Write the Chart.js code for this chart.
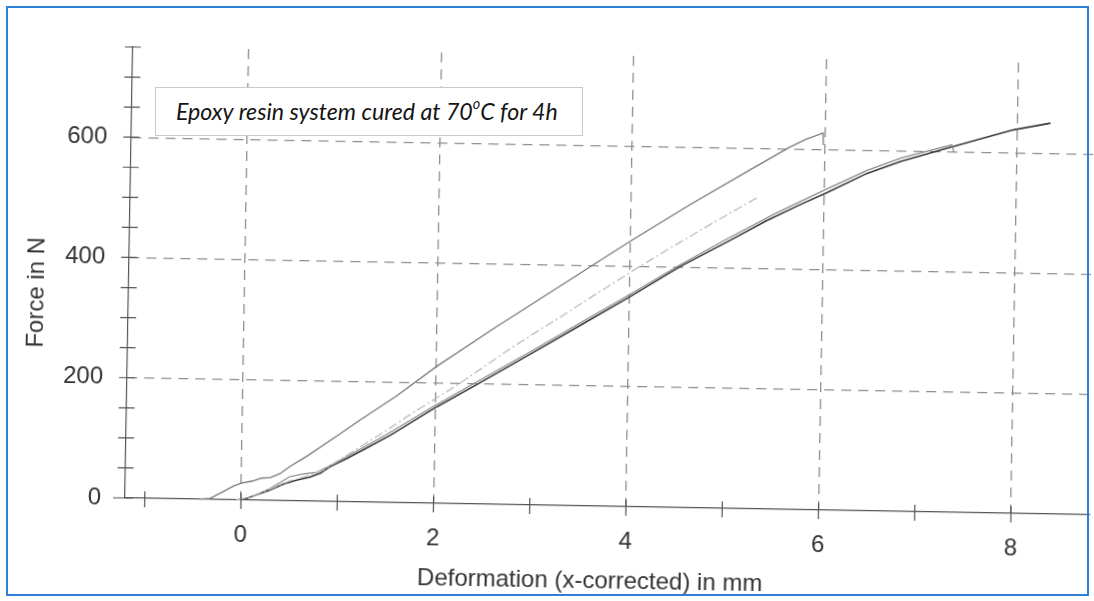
<!DOCTYPE html>
<html>
<head>
<meta charset="utf-8">
<script src="https://cdn.jsdelivr.net/npm/chart.js@4.4.1/dist/chart.umd.min.js"></script>
<style>
html,body{margin:0;padding:0;background:#fff;width:1094px;height:601px;overflow:hidden;}
#c{position:absolute;left:0;top:0;transform:rotate(1deg);transform-origin:241px 500px;}
#frame{position:absolute;left:6px;top:6px;width:1083px;height:590px;box-sizing:border-box;border:2px solid #2f7fd6;pointer-events:none;}
#note{position:absolute;left:155px;top:87px;width:428px;height:49px;box-sizing:border-box;border:1px solid #c9c9c9;background:#fff;
  font-family:Lato,"Open Sans",sans-serif;font-style:italic;font-size:21px;line-height:47px;padding-left:20px;color:#151515;white-space:nowrap;}
#note sup{font-size:0.62em;vertical-align:0;position:relative;top:-0.75em;}
</style>
</head>
<body>
<canvas id="c" width="1094" height="601"></canvas>
<div id="note"><span id="noteText">Epoxy resin system cured at 70<sup>o</sup>C for 4h</span></div>
<div id="frame"></div>
<script>
// ---- data ----
const xTitle = 'Deformation (x-corrected) in mm';
const yTitle = 'Force in N';
const xTickLabels = [0, 2, 4, 6, 8];
const yTickLabels = [0, 200, 400, 600];
const xMinorTicks = [-1, 0, 1, 2, 3, 4, 5, 6, 7, 8];
const yMinorTicks = [0, 50, 100, 150, 200, 250, 300, 350, 400, 450, 500, 550, 600, 650, 700, 750];

// upper curve
const xA = [-0.43,-0.32,-0.19,-0.08,0.0,0.12,0.21,0.30,0.40,0.50,0.68,1.0,1.2,1.6,2.01,2.6,3.21,3.69,4.02,4.6,5.23,5.64,5.80,5.98,5.985];
const yA = [0,2,13,23,28,32,37,38,45,57,75,111,134,178,228,293,358,409,444,503,564,603,616,627,607];
// light dash-dot curve
const xB = [-0.05,0.1,0.3,0.5,0.7,0.85,1.0,1.25,1.5,1.75,2.01,2.25,2.8,3.25,3.7,4.1,4.5,4.9,5.3];
const yB = [0,6,19,33,43,52,68,94,120,148,175,200,263,310,358,400,440,479,517];
// dark main curve
const xC = [-0.05,0.06,0.16,0.30,0.44,0.58,0.71,0.82,0.92,1.09,1.26,1.54,2.02,2.43,3.0,3.5,4.0,4.52,5.0,5.4,5.75,6.03,6.44,6.79,7.2,7.6,7.96,8.34];
const yC = [0,3,9,17.5,28,35,40,47,58,72,87,112,161,199,253,301,349,401,443,479,507,528,561,582,602,621,638,650];
// grey curve beside the dark one
const xD = [-0.03,0.1,0.3,0.5,0.64,0.78,0.92,1.1,1.5,2.0,2.5,3.0,3.5,4.0,4.5,5.0,5.5,6.0,6.44,6.8,7.2,7.32,7.34];
const yD = [0,5,20,40,45,48,60,76,113,163,210,257,305,353,402,448,492,532,566,588,606,611,600];

const pts = (xs, ys) => xs.map((x, i) => ({x: x, y: ys[i]}));

Chart.defaults.font.family = '"Liberation Sans", Arial, sans-serif';
Chart.defaults.color = '#333';

const decor = {
  id: 'decor',
  afterDraw(chart) {
    const {ctx, chartArea: a, scales: {x, y}} = chart;
    ctx.save();
    ctx.strokeStyle = '#555';
    ctx.lineWidth = 1.2;
    ctx.beginPath();
    yMinorTicks.forEach(v => { const p = y.getPixelForValue(v); ctx.moveTo(a.left - 8, p); ctx.lineTo(a.left + 8, p); });
    xMinorTicks.forEach(v => { const p = x.getPixelForValue(v); ctx.moveTo(p, a.bottom - 7); ctx.lineTo(p, a.bottom + 9); });
    ctx.moveTo(a.left - 12, a.bottom); ctx.lineTo(a.left, a.bottom);
    ctx.stroke();
    ctx.fillStyle = '#333';
    ctx.font = '24px "Liberation Sans", Arial, sans-serif';
    ctx.textAlign = 'center';
    ctx.textBaseline = 'middle';
    ctx.fillText(xTitle, 591, 575);
    ctx.translate(33, 296);
    ctx.rotate(-Math.PI / 2);
    ctx.fillText(yTitle, 0, 0);
    ctx.restore();
  }
};

const gridColor = c => (c.tick && c.tick.value === 0 && c.scale.axis === 'y') ? 'rgba(0,0,0,0)' : '#8e8e8e';

new Chart(document.getElementById('c'), {
  type: 'line',
  data: {
    datasets: [
      {data: pts(xB, yB), borderColor: '#bcbcbc', borderWidth: 1.3, borderDash: [9, 3, 2, 3]},
      {data: pts(xA, yA), borderColor: '#7b7b7b', borderWidth: 1.3},
      {data: pts(xD, yD), borderColor: '#8a8a8a', borderWidth: 1.2},
      {data: pts(xC, yC), borderColor: '#3a3a3a', borderWidth: 1.6}
    ]
  },
  options: {
    responsive: false,
    animation: false,
    devicePixelRatio: 1,
    layout: {padding: {left: 0, top: 49, right: 4, bottom: 0}},
    elements: {point: {radius: 0}, line: {tension: 0, fill: false}},
    plugins: {legend: {display: false}, tooltip: {enabled: false}},
    scales: {
      x: {
        type: 'linear', min: -1.205, max: 8.82,
        afterBuildTicks: s => { s.ticks = xTickLabels.map(v => ({value: v})); },
        afterFit: s => { s.height = 101; },
        grid: {drawTicks: false, color: gridColor, lineWidth: 1.3},
        border: {display: true, color: '#555', width: 1.2, dash: [10, 7]},
        ticks: {padding: 21, font: {size: 24}, color: '#333', maxRotation: 0, autoSkip: false}
      },
      y: {
        type: 'linear', min: 0, max: 750,
        afterBuildTicks: s => { s.ticks = yTickLabels.map(v => ({value: v})); },
        afterFit: s => { s.width = 125; },
        grid: {drawTicks: false, color: gridColor, lineWidth: 1.3},
        border: {display: true, color: '#555', width: 1.2, dash: [10, 7]},
        ticks: {padding: 24, font: {size: 24}, color: '#333', autoSkip: false}
      }
    }
  },
  plugins: [decor]
});

// fit the note text to the width it has in the reference
(function () {
  const span = document.getElementById('noteText');
  const w = span.getBoundingClientRect().width;
  if (w > 0) document.getElementById('note').style.fontSize = (21 * 382 / w).toFixed(2) + 'px';
})();
</script>
</body>
</html>
